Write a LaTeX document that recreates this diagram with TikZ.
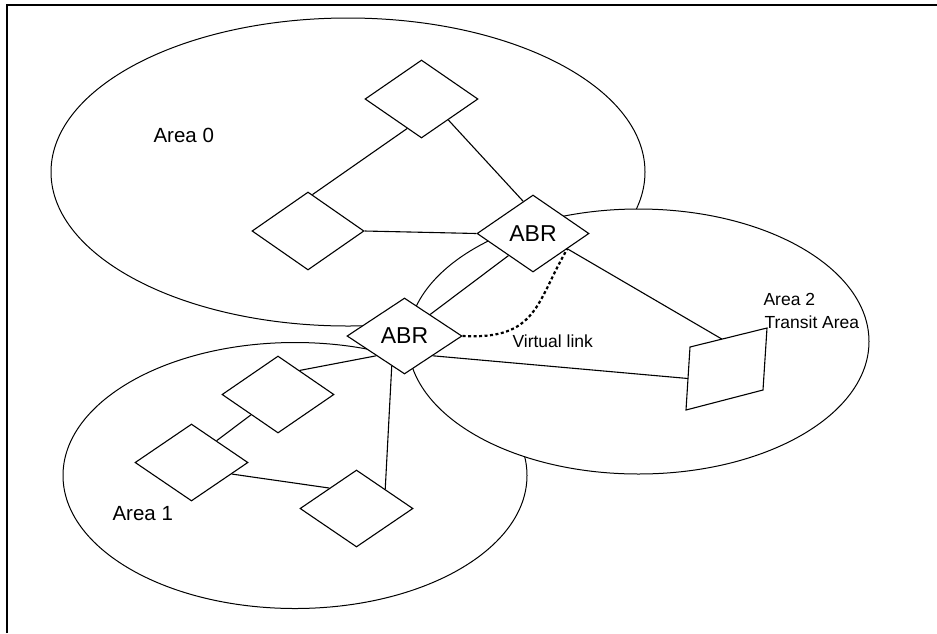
\documentclass[tikz,border=0pt]{standalone}
\usepackage{fontspec}
\setmainfont{Liberation Sans}
\usetikzlibrary{shapes.geometric,calc}
\begin{document}
\begin{tikzpicture}[x=1pt,y=-1pt,line width=1.1pt,
  router/.style={diamond, draw, fill=white, minimum width=112pt, minimum height=78pt, inner sep=0pt, font=\fontsize{23}{27}\selectfont},
  area/.style={draw, fill=white, line width=1pt},
  link/.style={line width=1.1pt},
  vlink/.style={line width=2.2pt, dash pattern=on 3pt off 2.5pt},
  lbl/.style={anchor=base west, inner sep=0pt, font=\fontsize{17.5}{21}\selectfont},
  biglbl/.style={anchor=base west, inner sep=0pt, font=\fontsize{20.5}{24}\selectfont},
  frame/.style={line width=1.3pt}]
\useasboundingbox (0,0) rectangle (937,633);
% partial frame
\draw[frame] (7,633) -- (7,5) -- (937,5);
% areas
\path[area] (348,172) ellipse [x radius=297pt, y radius=154pt];
\path[area] (295,475.5) ellipse [x radius=232pt, y radius=133pt];
\path[area] (638.5,341.5) ellipse [x radius=230.5pt, y radius=132.5pt];
% routers
\node[router, minimum width=113pt] (t0) at (421.5,99) {};
\node[router] (l0) at (308,231) {};
\node[router, minimum height=77pt] (abrA) at (533,233.5) {ABR};
\node[router, minimum width=115pt, minimum height=76pt] (abrB) at (404.5,336) {ABR};
\node[router, minimum height=77pt] (d1) at (278,394.5) {};
\node[router, minimum width=113pt, minimum height=77pt] (d2) at (191.5,462.5) {};
\node[router, minimum width=113pt, minimum height=77pt] (d3) at (356.5,508.5) {};
% transit router (parallelogram)
\coordinate (pa) at (690,347);
\coordinate (pb) at (767,328);
\coordinate (pc) at (763,390);
\coordinate (pd) at (686,410);
\draw[fill=white] (pa) -- (pb) -- (pc) -- (pd) -- cycle;
\coordinate (p1) at ($(pa)!0.415!(pb)$);
\coordinate (p2) at ($(pa)!0.5!(pd)$);
% links
\draw[link] (t0.244) -- (l0.83);
\draw[link] (t0.-38) -- (abrA.107);
\draw[link] (l0.east) -- (abrA.west);
\draw[link] (abrA.222) -- (abrB.40);
\draw[link] (abrA.-24) -- (p1);
\draw[link] (abrB.-35) -- (p2);
\draw[link] (abrB.215) -- (d1.48);
\draw[link] (d1.217) -- (d2.41);
\draw[link] (d2.-16) -- (d3.143);
\draw[link] (abrB.247) -- (d3.34);
% virtual link
\draw[vlink] (abrB.east) .. controls (538,340) and (536,302) .. (abrA.-24);
% labels
\node[biglbl] (a0) at (153,142) {Area 0};
\node[biglbl] (a1) at (112,520) {Area 1};
\node[lbl] (a2) at (763,305) {Area 2};
\node[lbl] (ta) at (764,328) {Transit Area};
\node[lbl] (vl) at (512,347) {Virtual link};
\end{tikzpicture}
\end{document}
